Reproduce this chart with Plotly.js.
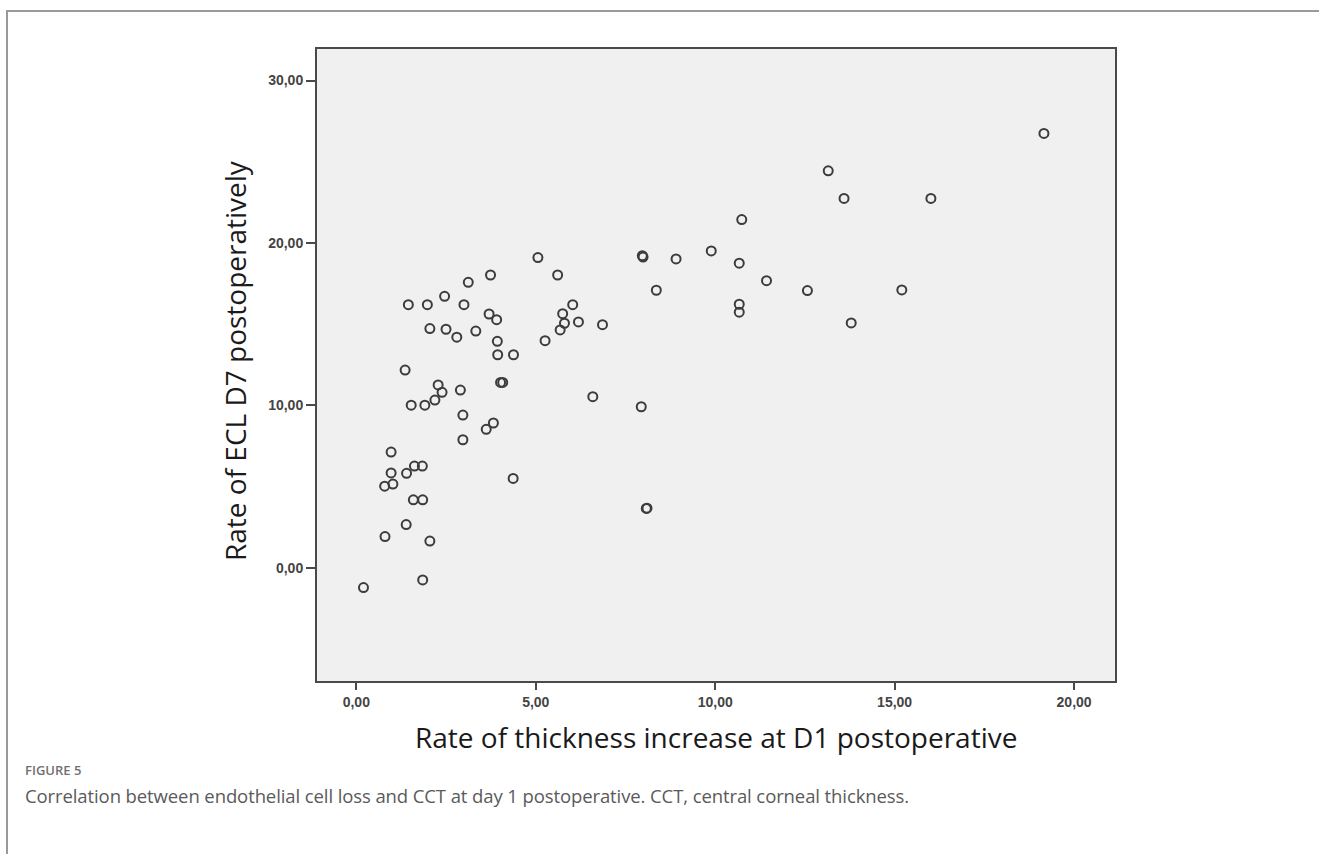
<!DOCTYPE html>
<html>
<head>
<meta charset="utf-8">
<script src="https://cdn.plot.ly/plotly-3.0.1.min.js"></script>
<style>
  html, body { margin: 0; padding: 0; background: #ffffff; }
  #wrap { position: relative; width: 1319px; height: 854px; overflow: hidden; }
  #chart { position: absolute; left: 0; top: 0; width: 1319px; height: 854px; }
  #frameTop { position: absolute; left: 6px; top: 10px; width: 1313px; height: 0; border-top: 2px solid #9a9a9a; }
  #frameLeft { position: absolute; left: 6px; top: 10px; width: 0; height: 844px; border-left: 2px solid #9a9a9a; }
  #figLabel { position: absolute; left: 25px; top: 761px; font-family: "Open Sans", sans-serif; font-size: 13px; font-weight: 600; color: #707070; }
  #figCaption { position: absolute; left: 25px; top: 783px; font-family: "Open Sans", sans-serif; font-size: 18.5px; color: #5a5a5a; letter-spacing: -0.1px; }
</style>
</head>
<body>
<div id="wrap">
  <div id="chart"></div>
  <div id="frameTop"></div>
  <div id="frameLeft"></div>
  <div id="figLabel">FIGURE 5</div>
  <div id="figCaption">Correlation between endothelial cell loss and CCT at day 1 postoperative. CCT, central corneal thickness.</div>
</div>
<script>
// Rate of thickness increase at D1 postoperative (x)
const thicknessD1 = [
  5.06, 7.97, 7.99, 8.91, 9.89, 8.36, 3.74, 5.61, 3.12, 2.46,
  1.45, 1.98, 3.00, 3.70, 3.91, 6.03, 5.75, 5.80, 6.19, 5.68,
  6.86, 2.05, 2.50, 2.80, 3.33, 3.93, 5.26, 3.94, 4.38, 1.36,
  19.16, 13.15, 13.59, 16.01, 10.74, 10.67, 11.43, 12.57, 15.20, 10.67,
  10.67, 13.79, 2.28, 2.39, 2.19, 1.53, 1.91, 2.90, 2.97, 2.97,
  3.62, 3.82, 4.02, 4.08, 6.59, 7.94, 4.37, 8.08, 8.10, 0.97,
  0.97, 1.40, 1.62, 1.84, 0.79, 1.02, 1.59, 1.85, 1.39, 0.80,
  2.05, 1.85, 0.20
];
// Rate of ECL D7 postoperatively (y)
const eclD7 = [
  19.10, 19.22, 19.13, 19.02, 19.51, 17.09, 18.03, 18.03, 17.58, 16.72,
  16.20, 16.20, 16.20, 15.63, 15.28, 16.20, 15.65, 15.06, 15.14, 14.65,
  14.97, 14.73, 14.69, 14.20, 14.58, 13.95, 13.99, 13.12, 13.12, 12.18,
  26.74, 24.44, 22.74, 22.74, 21.44, 18.76, 17.68, 17.07, 17.11, 16.23,
  15.74, 15.08, 11.26, 10.81, 10.33, 10.02, 10.02, 10.95, 9.41, 7.89,
  8.53, 8.92, 11.42, 11.42, 10.54, 9.92, 5.51, 3.66, 3.68, 7.13,
  5.85, 5.82, 6.27, 6.27, 5.03, 5.16, 4.19, 4.19, 2.67, 1.93,
  1.65, -0.74, -1.21
];
const xTickVals = [0, 5, 10, 15, 20];
const xTickText = ["0,00", "5,00", "10,00", "15,00", "20,00"];
const yTickVals = [0, 10, 20, 30];
const yTickText = ["0,00", "10,00", "20,00", "30,00"];
const xTitle = "Rate of thickness increase at D1 postoperative";
const yTitle = "Rate of ECL D7 postoperatively";

const trace = {
  type: "scatter",
  mode: "markers",
  x: thicknessD1,
  y: eclD7,
  marker: {
    symbol: "circle-open",
    size: 9,
    color: "#3c3c3c",
    line: { width: 2, color: "#3c3c3c" }
  },
  hoverinfo: "x+y",
  showlegend: false
};

const axisCommon = {
  showline: true,
  linecolor: "#4a4a4a",
  linewidth: 2,
  mirror: true,
  ticks: "outside",
  tickcolor: "#4a4a4a",
  tickwidth: 2,
  showgrid: false,
  zeroline: false,
  automargin: false,
  tickfont: { family: "Liberation Sans, Arial, sans-serif", size: 14, color: "#444444", weight: 700 }
};

const layout = {
  width: 1319,
  height: 854,
  margin: { l: 317, r: 204, t: 49, b: 173, pad: 0 },
  paper_bgcolor: "rgba(0,0,0,0)",
  plot_bgcolor: "#f0f0f0",
  xaxis: Object.assign({}, axisCommon, {
    range: [-1.095, 21.14],
    tickmode: "array",
    tickvals: xTickVals,
    ticktext: xTickText,
    ticklen: 7
  }),
  yaxis: Object.assign({}, axisCommon, {
    range: [-6.96, 31.94],
    tickmode: "array",
    tickvals: yTickVals,
    ticktext: yTickText,
    ticklen: 9
  }),
  annotations: [
    {
      text: xTitle,
      xref: "paper", yref: "paper",
      x: 0.5, y: 0,
      xanchor: "center", yanchor: "middle",
      yshift: -56,
      showarrow: false,
      font: { family: "Open Sans, sans-serif", size: 28, color: "#1a1a1a" }
    },
    {
      text: yTitle,
      xref: "paper", yref: "paper",
      x: 0, y: 0.5,
      xanchor: "center", yanchor: "middle",
      xshift: -82,
      yshift: 4,
      textangle: -90,
      showarrow: false,
      font: { family: "Open Sans, sans-serif", size: 28, color: "#1a1a1a" }
    }
  ]
};

Plotly.newPlot("chart", [trace], layout, { displayModeBar: false, staticPlot: true });
</script>
</body>
</html>
